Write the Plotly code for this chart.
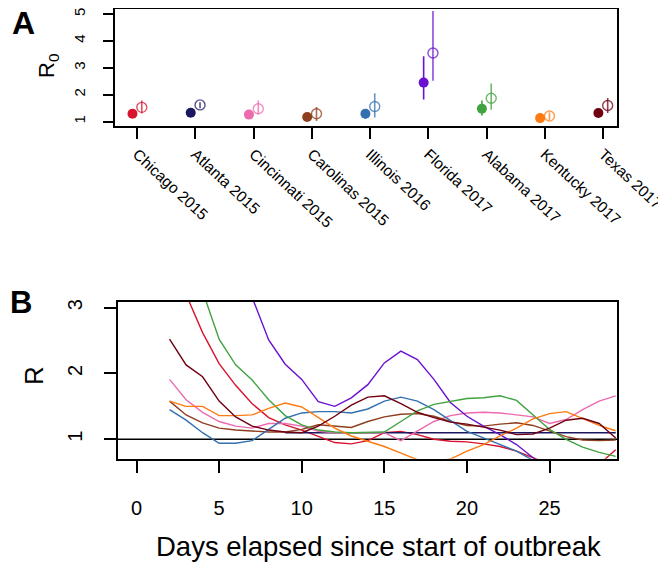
import plotly.graph_objects as go

# ---------------- Panel A data ----------------
places = ["Chicago 2015", "Atlanta 2015", "Cincinnati 2015", "Carolinas 2015", "Illinois 2016",
          "Florida 2017", "Alabama 2017", "Kentucky 2017", "Texas 2017"]
colors = ["#D8132F", "#1A1660", "#EE6AAF", "#8E3E1E", "#3370B0",
          "#6A10D0", "#3FA33F", "#FF7A10", "#700010"]
r0_filled = [1.29, 1.33, 1.26, 1.17, 1.29, 2.45, 1.48, 1.13, 1.32]
r0_filled_lo = [1.22, 1.27, 1.20, 1.08, 1.11, 1.82, 1.23, 1.07, 1.26]
r0_filled_hi = [1.36, 1.39, 1.32, 1.28, 1.45, 3.43, 1.78, 1.19, 1.40]
r0_open = [1.53, 1.62, 1.48, 1.29, 1.56, 3.55, 1.87, 1.21, 1.60]
r0_open_lo = [1.30, 1.50, 1.26, 1.02, 1.15, 2.52, 1.44, 1.06, 1.32]
r0_open_hi = [1.78, 1.72, 1.78, 1.54, 2.05, 5.11, 2.42, 1.35, 1.88]
r0_ticks = [1, 2, 3, 4, 5]

# ---------------- Panel B data ----------------
days = list(range(2, 30))
R_chicago = [3.9, 3.2, 2.62, 2.15, 1.82, 1.54, 1.33, 1.22, 1.14, 1.05, 0.95, 0.93, 0.98, 1.10,
             1.12, 1.07, 1.00, 0.97, 0.96, 0.93, 0.89, 0.82, 0.72, 0.62, 0.55, 0.52, 0.62, 0.84]
R_atlanta = [None, None, None, None, None, None, None, 1.10, 1.10, 1.10, 1.10, 1.10, 1.10, 1.10,
             1.10, 1.10, 1.10, 1.10, 1.10, 1.10, 1.10, 1.10, 1.10, 1.10, 1.10, 1.10, 1.10, 1.10]
R_cincinnati = [1.91, 1.60, 1.41, 1.27, 1.20, 1.17, 1.24, 1.24, 1.20, 1.12, 1.10, 1.10, 1.10, 1.10,
                0.98, 1.12, 1.27, 1.36, 1.40, 1.41, 1.40, 1.37, 1.34, 1.24, 1.30, 1.45, 1.58, 1.66]
R_carolinas = [1.58, 1.37, 1.25, 1.17, 1.14, 1.12, 1.11, 1.11, 1.15, 1.22, 1.20, 1.18, 1.27, 1.34,
               1.38, 1.39, 1.35, 1.27, 1.21, 1.20, 1.23, 1.25, 1.21, 1.13, 1.04, 0.99, 0.98, 0.99]
R_illinois = [1.45, 1.29, 1.10, 0.94, 0.94, 0.98, 1.15, 1.32, 1.40, 1.42, 1.42, 1.40, 1.46, 1.58,
              1.64, 1.58, 1.45, 1.29, 1.12, 1.02, 0.92, 0.82, 0.68, 0.55, 0.45, 0.40, 0.40, 0.40]
R_florida = [6.8, 6.0, 5.2, 4.5, 3.8, 3.15, 2.51, 2.14, 1.91, 1.57, 1.50, 1.63, 1.83, 2.16,
             2.34, 2.21, 1.91, 1.56, 1.35, 1.20, 1.07, 0.92, 0.72, 0.55, 0.45, 0.40, 0.45, 0.60]
R_alabama = [4.8, 4.0, 3.25, 2.52, 2.13, 1.90, 1.60, 1.36, 1.22, 1.14, 1.11, 1.10, 1.10, 1.11,
             1.27, 1.43, 1.53, 1.57, 1.62, 1.63, 1.66, 1.59, 1.37, 1.15, 1.00, 0.88, 0.80, 0.74]
R_kentucky = [1.58, 1.50, 1.50, 1.36, 1.36, 1.37, 1.47, 1.55, 1.49, 1.33, 1.17, 1.05, 0.97, 0.89,
              0.79, 0.69, 0.66, 0.70, 0.82, 0.92, 1.05, 1.17, 1.31, 1.39, 1.42, 1.31, 1.21, 1.13]
R_texas = [2.52, 2.13, 1.95, 1.58, 1.34, 1.20, 1.14, 1.11, 1.10, 1.20, 1.35, 1.52, 1.64, 1.66,
           1.54, 1.41, 1.33, 1.26, 1.23, 1.19, 1.14, 1.07, 1.08, 1.17, 1.29, 1.32, 1.24, 1.02]
day_ticks = [0, 5, 10, 15, 20, 25]
r_ticks = [1, 2, 3]

series_R = [R_chicago, R_atlanta, R_cincinnati, R_carolinas, R_illinois,
            R_florida, R_alabama, R_kentucky, R_texas]

W, H = 666, 565
OX, OY = 8, 8  # page body margin offset
FONT = "Liberation Sans, Arial, sans-serif"


def fx(px):
    return min(1.0, max(0.0, (px - OX) / W))


def fy(py):
    return min(1.0, max(0.0, 1 - (py - OY) / H))


def rgba(hexc, a):
    h = hexc.lstrip("#")
    return "rgba(%d,%d,%d,%.2f)" % (int(h[0:2], 16), int(h[2:4], 16), int(h[4:6], 16), a)


fig = go.Figure()

# Panel A: filled (left) and open (right) estimates with intervals
for i, name in enumerate(places):
    c = colors[i]
    fig.add_trace(go.Scatter(
        x=[i + 1 - 0.08], y=[r0_filled[i]], mode="markers",
        marker=dict(color=c, size=10, line=dict(width=0)),
        error_y=dict(type="data", symmetric=False,
                     array=[r0_filled_hi[i] - r0_filled[i]],
                     arrayminus=[r0_filled[i] - r0_filled_lo[i]],
                     color=c, thickness=1.6, width=0),
        xaxis="x", yaxis="y", showlegend=False, hoverinfo="skip"))
    oc = rgba(c, 0.75)
    fig.add_trace(go.Scatter(
        x=[i + 1 + 0.08], y=[r0_open[i]], mode="markers",
        marker=dict(color=oc, size=10, symbol="circle-open", line=dict(width=1.4)),
        error_y=dict(type="data", symmetric=False,
                     array=[r0_open_hi[i] - r0_open[i]],
                     arrayminus=[r0_open[i] - r0_open_lo[i]],
                     color=oc, thickness=1.6, width=0),
        xaxis="x", yaxis="y", showlegend=False, hoverinfo="skip"))

# Panel B: reference line at R = 1
fig.add_trace(go.Scatter(x=[-5, 35], y=[1, 1], mode="lines",
                         line=dict(color="black", width=1.4),
                         xaxis="x2", yaxis="y2", showlegend=False, hoverinfo="skip"))
for i, ys in enumerate(series_R):
    fig.add_trace(go.Scatter(x=days, y=ys, mode="lines",
                             line=dict(color=colors[i], width=1.4),
                             xaxis="x2", yaxis="y2", showlegend=False,
                             name=places[i], connectgaps=False))

axis_common = dict(showline=True, mirror=True, linecolor="black", linewidth=1.5,
                   ticks="outside", tickcolor="black", tickwidth=1.5,
                   showgrid=False, zeroline=False, automargin=False,
                   ticklabeloverflow="allow")

# Panel A top edge sits at the very top of the page; keep tick spacing
a_top_px = 8.8
a_bot_px = 125.5
a_one_px = 121.6   # page y of R0 = 1
a_unit = 26.9      # px per R0 unit
a_top_val = 1 + (a_one_px - a_top_px) / a_unit
a_bot_val = 1 - (a_bot_px - a_one_px) / a_unit

fig.update_layout(
    width=W, height=H,
    margin=dict(l=0, r=0, t=0, b=0, autoexpand=False),
    paper_bgcolor="white", plot_bgcolor="white",
    font=dict(family=FONT, color="black"),
    xaxis=dict(domain=[fx(115), fx(617)], range=[0.62, 9.24],
               tickmode="array", tickvals=list(range(1, 10)), ticktext=places,
               tickangle=43, ticklen=12, tickfont=dict(size=15.5), anchor="y",
               **axis_common),
    yaxis=dict(domain=[fy(a_bot_px), fy(a_top_px)], range=[a_bot_val, a_top_val],
               tickmode="array", tickvals=r0_ticks, tickangle=-90, ticklen=10,
               ticklabelstandoff=12, tickfont=dict(size=15), anchor="x",
               **axis_common),
    xaxis2=dict(domain=[fx(118), fx(617)], range=[-1.12, 29.08],
                tickmode="array", tickvals=day_ticks, ticklen=13,
                ticklabelstandoff=18, tickfont=dict(size=20), anchor="y2",
                **axis_common),
    yaxis2=dict(domain=[fy(458.7), fy(301.7)], range=[0.705, 3.09],
                tickmode="array", tickvals=r_ticks, tickangle=-90, ticklen=12,
                ticklabelstandoff=14, tickfont=dict(size=20), anchor="x2",
                **axis_common),
)


def ann(text, px, py, size, angle=0, bold=False):
    t = "<b>%s</b>" % text if bold else text
    fig.add_annotation(text=t, x=fx(px), y=fy(py), xref="paper", yref="paper",
                       showarrow=False, textangle=angle, xanchor="center", yanchor="middle",
                       font=dict(size=size, family=FONT, color="black"))


ann("A", 23, 23, 32, bold=True)
ann("B", 21, 302, 31, bold=True)
ann("R<sub>0</sub>", 48, 66, 22, angle=-90)
ann("R", 34, 376, 26, angle=-90)
ann("Days elapsed since start of outbreak", 378, 546, 27.5)

fig.write_html("out.html")
